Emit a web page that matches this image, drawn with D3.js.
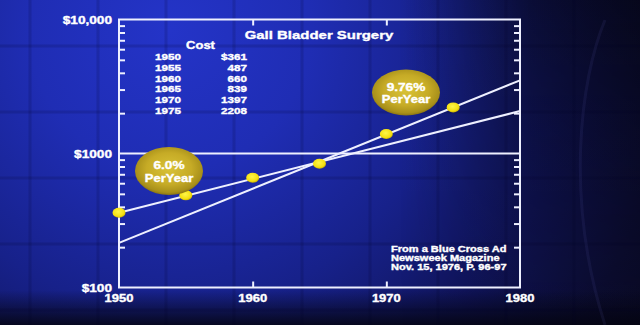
<!DOCTYPE html>
<html>
<head>
<meta charset="utf-8">
<script src="https://cdn.jsdelivr.net/npm/d3@7"></script>
<style>
  html, body { margin: 0; padding: 0; background: #0a0a22; }
  svg { display: block; }
  text { font-family: "Liberation Sans", Arial, Helvetica, sans-serif; font-weight: bold;
         fill: #ffffff; stroke: #ffffff; stroke-width: 0.35px; }
</style>
</head>
<body>
<svg id="chart" width="640" height="325"></svg>
<script>
// Cost of gall bladder surgery, by year
const years = [1950, 1955, 1960, 1965, 1970, 1975];
const costs = [361, 487, 660, 839, 1397, 2208];
const costLabels = ["$361", "487", "660", "839", "1397", "2208"];

// Compound growth lines: stated yearly rate, anchored at one surveyed year
const trendLabels = ["6.0%", "9.76%"];
const trendRates = [0.06, 0.0976];
const trendAnchorYears = [1950, 1975];
const trendAnchorCosts = [361, 2208];

// Axis ticks
const xLabelTicks = [1950, 1960, 1970, 1980];
const xMarkTicks = [1960, 1970];
const yLabelTicks = [100, 1000, 10000];
const yLabelText = ["$100", "$1000", "$10,000"];
const yMinorTicks = [200, 300, 400, 500, 600, 700, 800, 900,
                     2000, 3000, 4000, 5000, 6000, 7000, 8000, 9000];

const sourceLines = ["From a Blue Cross Ad", "Newsweek Magazine", "Nov. 15, 1976, P. 96-97"];

const W = 640, H = 325;
const SX = 1.3;   // wide lettering
const svg = d3.select("#chart");
const defs = svg.append("defs");

// ---------- backdrop ----------
const bg = defs.append("radialGradient").attr("id", "bg")
  .attr("gradientUnits", "userSpaceOnUse")
  .attr("cx", 170).attr("cy", 30).attr("r", 560);
[[0, "#2434c8"], [0.25, "#1f2db4"], [0.5, "#17218a"], [0.72, "#10145a"], [0.9, "#0c0d34"], [1, "#0a0a26"]]
  .forEach(([o, c]) => bg.append("stop").attr("offset", o).attr("stop-color", c));
svg.append("rect").attr("width", W).attr("height", H).attr("fill", "url(#bg)");

// darker right side, strongest near the top
const shadeR = defs.append("linearGradient").attr("id", "shadeR")
  .attr("x1", 0).attr("y1", 0).attr("x2", 1).attr("y2", 0);
shadeR.append("stop").attr("offset", 0).attr("stop-color", "#04040c").attr("stop-opacity", 0);
shadeR.append("stop").attr("offset", 0.55).attr("stop-color", "#04040c").attr("stop-opacity", 0.55);
shadeR.append("stop").attr("offset", 1).attr("stop-color", "#04040c").attr("stop-opacity", 0.7);
const fadeDown = defs.append("linearGradient").attr("id", "fadeDown")
  .attr("x1", 0).attr("y1", 0).attr("x2", 0).attr("y2", 1);
fadeDown.append("stop").attr("offset", 0).attr("stop-color", "#fff");
fadeDown.append("stop").attr("offset", 0.55).attr("stop-color", "#888");
fadeDown.append("stop").attr("offset", 1).attr("stop-color", "#222");
defs.append("mask").attr("id", "fadeMask")
  .append("rect").attr("x", 0).attr("y", 0).attr("width", W).attr("height", H).attr("fill", "url(#fadeDown)");
svg.append("rect").attr("x", 400).attr("y", 0).attr("width", 240).attr("height", H)
  .attr("fill", "url(#shadeR)").attr("mask", "url(#fadeMask)");

// dark band along the bottom
const shadeB = defs.append("linearGradient").attr("id", "shadeB")
  .attr("x1", 0).attr("y1", 0).attr("x2", 0).attr("y2", 1);
shadeB.append("stop").attr("offset", 0).attr("stop-color", "#040410").attr("stop-opacity", 0);
shadeB.append("stop").attr("offset", 1).attr("stop-color", "#040410").attr("stop-opacity", 0.85);
svg.append("rect").attr("x", 0).attr("y", 290).attr("width", W).attr("height", 35)
  .attr("fill", "url(#shadeB)");

// faint tiled wall
const tiles = svg.append("g").attr("stroke", "#000020").attr("stroke-opacity", 0.14).attr("stroke-width", 3);
d3.range(30, W, 68).forEach(x => tiles.append("line").attr("x1", x).attr("x2", x).attr("y1", 0).attr("y2", H));
d3.range(46, H, 66).forEach(y => tiles.append("line").attr("x1", 0).attr("x2", W).attr("y1", y).attr("y2", y));

// faint sweeping arc on the right
svg.append("path")
  .attr("d", "M605,20 C580,80 565,200 605,325")
  .attr("fill", "none").attr("stroke", "#5a5ab0").attr("stroke-opacity", 0.12).attr("stroke-width", 3);

// ---------- scales ----------
const x = d3.scaleLinear().domain([1950, 1980]).range([119, 520]);
const y = d3.scaleLog().domain([100, 10000]).range([287.5, 19.5]);

const ink = "#eef0ff";

// helper: horizontally widened text
function wideText(g, str, tx, ty, size, anchor) {
  return g.append("text")
    .attr("transform", `translate(${tx},${ty}) scale(${SX},1)`)
    .attr("text-anchor", anchor || "start")
    .attr("font-size", size)
    .text(str);
}

// ---------- frame & ticks ----------
svg.append("rect")
  .attr("x", x(1950)).attr("y", y(10000))
  .attr("width", x(1980) - x(1950)).attr("height", y(100) - y(10000))
  .attr("fill", "none").attr("stroke", ink).attr("stroke-width", 2);

function styleAxis(g) {
  g.select(".domain").remove();
  g.selectAll(".tick line").attr("stroke", ink).attr("stroke-width", 2);
  g.selectAll("text").remove();
}
svg.append("g").attr("transform", `translate(${x(1950)},0)`)
  .call(d3.axisRight(y).tickValues(yMinorTicks).tickSize(6).tickFormat(""))
  .call(styleAxis);
svg.append("g").attr("transform", `translate(${x(1980)},0)`)
  .call(d3.axisLeft(y).tickValues(yMinorTicks).tickSize(6).tickFormat(""))
  .call(styleAxis);
svg.append("g").attr("transform", `translate(0,${y(100)})`)
  .call(d3.axisTop(x).tickValues(xMarkTicks).tickSize(6).tickFormat(""))
  .call(styleAxis);
svg.append("g").attr("transform", `translate(0,${y(10000)})`)
  .call(d3.axisBottom(x).tickValues(xMarkTicks).tickSize(6).tickFormat(""))
  .call(styleAxis);

// $1000 reference line across the plot
svg.append("line")
  .attr("x1", x(1950)).attr("x2", x(1980))
  .attr("y1", y(1000)).attr("y2", y(1000))
  .attr("stroke", ink).attr("stroke-width", 2);

// axis labels
const labels = svg.append("g");
yLabelTicks.forEach((v, i) => wideText(labels, yLabelText[i], x(1950) - 7, y(v) + 4, 10.5, "end"));
xLabelTicks.forEach(v => wideText(labels, String(v), x(v), y(100) + 14, 10, "middle"));

// ---------- growth lines ----------
const line = d3.line().x(d => x(d[0])).y(d => y(d[1]));
trendRates.forEach((r, i) => {
  const ends = [1950, 1980].map(t => [t, trendAnchorCosts[i] * Math.pow(1 + r, t - trendAnchorYears[i])]);
  svg.append("path").attr("d", line(ends))
    .attr("fill", "none").attr("stroke", ink).attr("stroke-width", 2);
});

// ---------- data points ----------
const dotGrad = defs.append("radialGradient").attr("id", "dot").attr("cx", 0.45).attr("cy", 0.4).attr("r", 0.6);
dotGrad.append("stop").attr("offset", 0).attr("stop-color", "#fff64a");
dotGrad.append("stop").attr("offset", 0.75).attr("stop-color", "#f5e010");
dotGrad.append("stop").attr("offset", 1).attr("stop-color", "#c8b000");
svg.append("g").selectAll("ellipse").data(years).join("ellipse")
  .attr("cx", d => x(d))
  .attr("cy", (d, i) => y(costs[i]))
  .attr("rx", 6.5).attr("ry", 5)
  .attr("fill", "url(#dot)");

// ---------- rate badges ----------
const badge = defs.append("radialGradient").attr("id", "badge").attr("cx", 0.5).attr("cy", 0.45).attr("r", 0.55);
[[0, "#d8c236"], [0.6, "#c6ab26"], [0.9, "#a8901a"], [1, "#8a7412"]]
  .forEach(([o, c]) => badge.append("stop").attr("offset", o).attr("stop-color", c));
const badges = svg.append("g");
[[169, 171, 24], [406, 92.5, 23]].forEach(([cx, cy, ry], i) => {
  badges.append("ellipse").attr("cx", cx).attr("cy", cy).attr("rx", 34).attr("ry", ry)
    .attr("fill", "url(#badge)");
  wideText(badges, trendLabels[i], cx, cy - 2, 10.5, "middle");
  wideText(badges, "PerYear", cx, cy + 10.5, 10, "middle");
});

// ---------- title & table ----------
const ttl = svg.append("g");
wideText(ttl, "Gall Bladder Surgery", 319, 38.5, 11.5, "middle");
wideText(ttl, "Cost", 200.5, 48.5, 10, "middle");
years.forEach((yr, i) => {
  const by = 60 + i * 10.8;
  wideText(ttl, String(yr), 155, by, 9, "start");
  wideText(ttl, costLabels[i], 247, by, 9, "end");
});

// ---------- source note ----------
const src = svg.append("g");
sourceLines.forEach((s, i) => wideText(src, s, 391, 252 + i * 9, 8.5, "start"));
</script>
</body>
</html>
